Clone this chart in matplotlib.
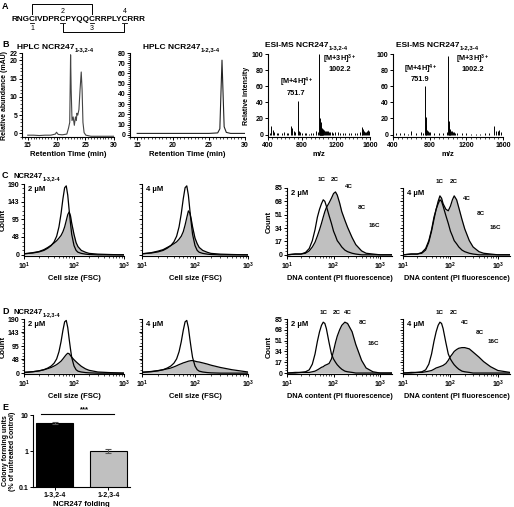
import numpy as np
import matplotlib
matplotlib.use('Agg')
import matplotlib.pyplot as plt
from matplotlib.ticker import MultipleLocator, FixedLocator, NullFormatter, LogLocator
from matplotlib.font_manager import FontProperties

# ---- dados ----
seq = "RNGCIVDPRCPYQQCRRPLYCRRR"
cys_idx = [3, 9, 14, 20]

# HPLC (tempo em min, mAU)
hplc1_t = [15, 16, 17, 18, 19, 19.8, 20.0, 20.3, 21, 21.8, 22.1, 22.3, 22.45, 22.55, 22.7, 22.9, 23.1,
           23.3, 23.45, 23.55, 23.7, 23.9, 24.1, 24.3, 24.45, 24.6, 24.8, 25.1, 26, 27, 28, 29, 30]
hplc1_mau = [-0.5, -0.5, -0.6, -0.5, -0.5, -0.2, 0.3, -0.3, -0.4, -0.2, 1.5, 3, 21.5, 12, 3.5, 4.5, 2.2,
             4.5, 3.5, 5.5, 5.0, 6.5, 12, 16.8, 12, 3, 0.2, -0.5, -0.8, -0.8, -0.8, -0.8, -0.8]
hplc2_t = [15, 17, 19, 21, 23, 25, 26.2, 26.5, 26.65, 26.8, 26.95, 27.1, 27.4, 28, 29, 30]
hplc2_mau = [1.5, 1.5, 1.5, 1.5, 1.5, 1.5, 2, 6, 40, 73, 40, 8, 2.5, 1.5, 1.5, 1.5]

# ESI-MS (m/z, intensidade relativa)
ms1_mz = [420, 440, 455, 470, 500, 520, 560, 590, 620, 640, 670, 685, 700, 715, 751.7, 760, 775, 800, 830,
          850, 880, 900, 930, 960, 985, 1002.2, 1006, 1010, 1014, 1018, 1022, 1025, 1030, 1035, 1040, 1045,
          1052, 1060, 1070, 1080, 1090, 1100, 1115, 1130, 1150, 1170, 1190, 1220, 1250, 1280, 1310, 1350,
          1380, 1420, 1450, 1480, 1500, 1510, 1520, 1530, 1540, 1550, 1560, 1575, 1590]
ms1_int = [2, 11, 6, 3, 2, 2, 2, 3, 2, 2, 11, 8, 5, 3, 42, 5, 3, 2, 2,
           2, 1, 2, 2, 5, 3, 100, 12, 20, 9, 15, 8, 10, 7, 8, 6, 7,
           5, 6, 4, 5, 4, 4, 3, 3, 3, 2, 3, 3, 2, 2, 2, 2,
           2, 2, 2, 3, 4, 10, 7, 4, 3, 3, 5, 6, 4]
ms2_mz = [430, 480, 520, 560, 600, 650, 700, 730, 751.9, 756, 762, 770, 780, 790, 800, 850, 900, 950, 985,
          1002.2, 1008, 1015, 1020, 1025, 1032, 1040, 1050, 1060, 1080, 1100, 1150, 1200, 1250, 1300, 1350,
          1400, 1450, 1500, 1520, 1540, 1560, 1580, 1595]
ms2_int = [2, 2, 2, 1, 4, 2, 3, 2, 60, 22, 12, 6, 4, 3, 3, 2, 2, 2, 3,
           97, 17, 12, 7, 6, 5, 4, 3, 3, 2, 2, 2, 2, 1, 1, 1,
           2, 2, 11, 4, 5, 6, 3, 2]

# citometria - tamanho celular (FSC)
fsc = [10, 12, 15, 20, 25, 30, 35, 40, 45, 50, 55, 60, 65, 70, 75, 80, 85, 90, 100, 110, 120, 140, 170, 200,
       300, 500, 1000]
ctrl_fsc = [3, 4, 5, 8, 12, 18, 25, 35, 50, 75, 110, 150, 180, 185, 160, 120, 85, 55, 25, 12, 7, 4, 2, 1,
            0, 0, 0]
c1_fsc = [3, 4, 6, 9, 14, 20, 26, 32, 38, 45, 52, 62, 75, 92, 108, 115, 105, 85, 55, 33, 22, 12, 7, 4, 2, 1, 0]
c2_fsc = [3, 4, 6, 10, 14, 20, 25, 30, 35, 42, 50, 62, 80, 100, 118, 112, 95, 75, 45, 30, 20, 12, 7, 4, 2, 1, 0]
d1_fsc = [2, 3, 5, 8, 12, 16, 20, 25, 30, 36, 42, 50, 58, 65, 70, 68, 62, 56, 47, 40, 34, 24, 15, 10, 4, 2, 0]
d2_fsc = [3, 4, 6, 9, 12, 15, 18, 22, 26, 30, 33, 36, 38, 40, 42, 43, 44, 44, 42, 40, 39, 36, 32, 28, 20, 12, 4]

# citometria - conteudo de DNA
dna = [10, 15, 20, 25, 30, 35, 40, 45, 50, 55, 60, 65, 70, 80, 90, 100, 110, 120, 135, 150, 175, 200, 250, 300,
       400, 500, 700, 1000, 1800]
c_dna_ctrl = [0, 1, 1, 3, 8, 18, 32, 48, 58, 65, 70, 68, 62, 50, 40, 30, 24, 18, 14, 10, 6, 4, 2, 1, 0, 0, 0, 0, 0]
c3_dna = [0, 1, 1, 2, 5, 10, 16, 24, 32, 40, 48, 55, 60, 66, 72, 78, 80, 76, 66, 55, 44, 35, 22, 13, 5, 2, 1, 0, 0]
c4_dna = [0, 1, 1, 2, 6, 16, 30, 45, 58, 68, 75, 72, 65, 58, 56, 62, 70, 75, 70, 60, 45, 33, 18, 10, 4, 2, 1, 0, 0]
d_dna_ctrl = [0, 1, 1, 2, 5, 14, 30, 50, 65, 75, 80, 78, 70, 48, 30, 22, 17, 13, 9, 6, 3, 2, 1, 0, 0, 0, 0, 0, 0]
d3_dna = [0, 0, 1, 1, 1, 2, 3, 5, 7, 9, 10, 12, 13, 15, 22, 35, 48, 58, 68, 75, 80, 78, 65, 45, 20, 8, 2, 0, 0]
d4_dna = [0, 0, 1, 1, 2, 3, 4, 6, 8, 9, 10, 11, 12, 15, 20, 26, 30, 34, 37, 39, 40, 40, 38, 33, 25, 18, 10, 4, 1]

ploidy = ["1C", "2C", "4C", "8C", "16C"]
ploidy_pos_c3 = [(54, 92), (107, 92), (213, 84), (400, 57), (740, 34)]
ploidy_pos_c4 = [(60, 90), (120, 90), (220, 68), (430, 50), (900, 31)]
ploidy_pos_d3 = [(60, 92), (120, 92), (200, 92), (420, 76), (700, 42)]
ploidy_pos_d4 = [(60, 92), (120, 92), (200, 75), (420, 60), (800, 45)]

# colonias
folding = ["1-3,2-4", "1-2,3-4"]
cfu = [6.0, 1.0]
cfu_err = [0.4, 0.12]

# ---- estilo ----
plt.rcParams['font.family'] = ['Liberation Sans', 'DejaVu Sans']
plt.rcParams['font.weight'] = 'bold'
plt.rcParams['axes.labelweight'] = 'bold'
plt.rcParams['mathtext.fontset'] = 'custom'
plt.rcParams['mathtext.rm'] = 'Liberation Sans:bold'
plt.rcParams['mathtext.bf'] = 'Liberation Sans:bold'
plt.rcParams['mathtext.it'] = 'Liberation Sans:bold'
plt.rcParams['mathtext.default'] = 'bf'
plt.rcParams['axes.linewidth'] = 0.8

W, H = 514, 507
fig = plt.figure(figsize=(W / 100, H / 100), dpi=100)
renderer = fig.canvas.get_renderer()


def add_ax(l, t, r, b):
    return fig.add_axes([l / W, 1 - b / H, (r - l) / W, (b - t) / H])


def ftext(x, y, s, **kw):
    return fig.text(x / W, 1 - y / H, s, **kw)


def text_w(s, size):
    fp = FontProperties(family='Liberation Sans', weight='bold', size=size)
    return renderer.get_text_width_height_descent(s, fp, ismath=False)[0]


def label_sub(x, y, main, sub, size=6):
    ftext(x, y, main, fontsize=size, va='baseline')
    ftext(x + text_w(main, size) + 0.5, y + 2.5, sub, fontsize=size * 0.72, va='baseline')


def style(ax):
    for s in ['top', 'right']:
        ax.spines[s].set_visible(False)
    ax.tick_params(which='major', direction='out', length=2.2, width=0.7, labelsize=5, pad=1.2)
    ax.tick_params(which='minor', direction='out', length=1.2, width=0.5)


def panel_letter(x, y, s):
    ftext(x, y, s, fontsize=6.5, va='baseline')


# ---- A: sequencia ----
panel_letter(2, 9, "A")
seq_size = 5.9
x0, ybase = 11, 21
ftext(x0, ybase, seq, fontsize=seq_size, va='baseline')
cx = []
for i in cys_idx:
    a = text_w(seq[:i], seq_size)
    b = text_w(seq[:i + 1], seq_size)
    cx.append(x0 + (a + b) / 2)
for xc in cx:
    fig.add_artist(plt.Line2D([(xc - 2.2) / W, (xc + 2.2) / W], [1 - 23 / H] * 2, color='k', lw=0.6))
# ponte 1-3 (cima) e 2-4 (baixo)
top_y, bot_y = 4, 32
fig.add_artist(plt.Line2D([cx[0] / W, cx[0] / W, cx[2] / W, cx[2] / W],
                          [1 - 14 / H, 1 - top_y / H, 1 - top_y / H, 1 - 14 / H], color='k', lw=0.7))
fig.add_artist(plt.Line2D([cx[1] / W, cx[1] / W, cx[3] / W, cx[3] / W],
                          [1 - 24 / H, 1 - bot_y / H, 1 - bot_y / H, 1 - 24 / H], color='k', lw=0.7))
ftext(cx[0], 30, "1", fontsize=5, ha='center', va='baseline', fontweight='normal')
ftext(cx[1], 13, "2", fontsize=5, ha='center', va='baseline', fontweight='normal')
ftext(cx[2], 30, "3", fontsize=5, ha='center', va='baseline', fontweight='normal')
ftext(cx[3], 13, "4", fontsize=5, ha='center', va='baseline', fontweight='normal')

# ---- B: HPLC e MS ----
panel_letter(2, 47, "B")
b1 = add_ax(22, 53, 114, 137)
b1.plot(hplc1_t, hplc1_mau, color='#444444', lw=0.8)
b1.set_xlim(14, 30)
b1.set_ylim(-1, 22)
b1.set_xticks([15, 20, 25, 30])
b1.set_yticks([0, 5, 10, 15, 20, 22])
b1.xaxis.set_minor_locator(MultipleLocator(0.5))
b1.yaxis.set_minor_locator(MultipleLocator(1))
b1.set_xlabel("Retention Time (min)", fontsize=5.5, labelpad=2)
b1.set_ylabel("Relative abundance (mAU)", fontsize=5, labelpad=1)
style(b1)
label_sub(17, 49, "HPLC NCR247", "1-3,2-4")

b2 = add_ax(130, 53, 245, 137)
b2.plot(hplc2_t, hplc2_mau, color='#222222', lw=0.8)
b2.set_xlim(14, 30)
b2.set_ylim(-2, 80)
b2.set_xticks([15, 20, 25, 30])
b2.set_yticks(np.arange(0, 81, 10))
b2.xaxis.set_minor_locator(MultipleLocator(0.5))
b2.yaxis.set_minor_locator(MultipleLocator(2))
b2.set_xlabel("Retention Time (min)", fontsize=5.5, labelpad=2)
style(b2)
label_sub(143, 49, "HPLC NCR247", "1-2,3-4")

for (l, r, tx, mz, inten, sub, ann4, ann3, p4, p3) in [
        (268, 370, 265, ms1_mz, ms1_int, "1-3,2-4", "751.7", "1002.2", (735, 47), (1240, 76)),
        (393, 503, 396, ms2_mz, ms2_int, "1-2,3-4", "751.9", "1002.2", (700, 64), (1265, 76))]:
    ax = add_ax(l, 54, r, 137)
    ax.vlines(mz, 0, inten, color='k', lw=0.7)
    ax.set_xlim(400, 1600)
    ax.set_ylim(-3, 100)
    ax.set_xticks([400, 800, 1200, 1600])
    ax.set_yticks([0, 20, 40, 60, 80, 100])
    ax.xaxis.set_minor_locator(MultipleLocator(50))
    ax.set_xlabel("m/z", fontsize=5.5, labelpad=2)
    if l < 300:
        ax.set_ylabel("Relative intensity", fontsize=5, labelpad=1)
    style(ax)
    ax.text(p4[0], p4[1], "[M+4H]$^{4+}$\n" + ann4, fontsize=5.3, ha='center', va='bottom', linespacing=1.05)
    ax.text(p3[0], p3[1], "[M+3H]$^{3+}$\n" + ann3, fontsize=5.3, ha='center', va='bottom', linespacing=1.05)
    label_sub(tx, 47, "ESI-MS NCR247", sub)


# ---- C e D: citometria ----
def hist_ax(l, t, r, b, x, open_y, fill_y, kind, conc, ylab, ppos=None):
    ax = add_ax(l, t, r, b)
    ax.fill_between(x, fill_y, color='#c0c0c0', lw=0)
    ax.plot(x, fill_y, color='k', lw=0.9)
    ax.plot(x, open_y, color='k', lw=0.9)
    ax.set_xscale('log')
    if kind == 'fsc':
        ax.set_xlim(10, 1000)
        ax.set_ylim(-3, 190)
        ax.set_yticks([0, 48, 95, 143, 190])
        ax.yaxis.set_minor_locator(MultipleLocator(190 / 16))
        ax.set_xlabel("Cell size (FSC)", fontsize=5.5, labelpad=2)
    else:
        ax.set_xlim(10, 1800)
        ax.set_ylim(-1.5, 85)
        ax.set_yticks([0, 17, 34, 51, 68, 85])
        ax.yaxis.set_minor_locator(MultipleLocator(17 / 4))
        ax.set_xlabel("DNA content (PI fluorescence)", fontsize=5.3, labelpad=2)
    ax.xaxis.set_major_locator(LogLocator(base=10, numticks=5))
    ax.xaxis.set_minor_locator(LogLocator(base=10, subs=np.arange(2, 10), numticks=20))
    ax.xaxis.set_minor_formatter(NullFormatter())
    if ylab:
        ax.set_ylabel("Count", fontsize=5.5, labelpad=1)
    else:
        ax.set_yticklabels([])
    style(ax)
    ax.text(0.04, 0.97, conc, transform=ax.transAxes, fontsize=5.5, va='top')
    if ppos is not None:
        for lab, (px_, py_) in zip(ploidy, ppos):
            ax.text(px_, py_, lab, fontsize=4.5, ha='center', va='bottom', clip_on=False)
    return ax


panel_letter(2, 178, "C")
label_sub(13, 178, "NCR247", "1-3,2-4", size=5.5)
hist_ax(24, 184, 124, 256, fsc, ctrl_fsc, c1_fsc, 'fsc', "2 µM", True)
hist_ax(142, 184, 248, 256, fsc, ctrl_fsc, c2_fsc, 'fsc', "4 µM", False)
hist_ax(287, 188, 392, 256, dna, c_dna_ctrl, c3_dna, 'dna', "2 µM", True, ploidy_pos_c3)
hist_ax(403, 188, 510, 256, dna, c_dna_ctrl, c4_dna, 'dna', "4 µM", False, ploidy_pos_c4)

panel_letter(2, 314, "D")
label_sub(13, 314, "NCR247", "1-2,3-4", size=5.5)
hist_ax(24, 319, 124, 374, fsc, ctrl_fsc, d1_fsc, 'fsc', "2 µM", True)
hist_ax(142, 319, 248, 374, fsc, ctrl_fsc, d2_fsc, 'fsc', "4 µM", False)
hist_ax(287, 319, 392, 374, dna, d_dna_ctrl, d3_dna, 'dna', "2 µM", True, ploidy_pos_d3)
hist_ax(403, 319, 510, 374, dna, d_dna_ctrl, d4_dna, 'dna', "4 µM", False, ploidy_pos_d4)

# ---- E: colonias ----
panel_letter(2, 410, "E")
e = add_ax(33, 415, 130, 487)
xpos = np.arange(len(folding))
e.bar(xpos, cfu, width=0.7, color=['k', '#c0c0c0'], edgecolor='k', lw=0.8,
      yerr=cfu_err, capsize=2, error_kw=dict(lw=0.8, capthick=0.8, ecolor='#555555'))
e.set_yscale('log')
e.set_ylim(0.1, 10)
e.set_xlim(-0.4, 1.4)
e.set_yticks([0.1, 1, 10])
e.set_yticklabels(["0.1", "1", "10"])
e.yaxis.set_minor_locator(FixedLocator([]))
e.set_xticks(xpos)
e.set_xticklabels(folding)
e.set_xlabel("NCR247 folding", fontsize=5.5, labelpad=1.5)
e.set_ylabel("Colony forming units\n(% of untreated control)", fontsize=5, labelpad=1.5, linespacing=1.0)
style(e)
e.plot([-0.25, 1.1], [11, 11], color='k', lw=0.8, clip_on=False)
e.text(0.55, 11.5, "***", fontsize=5.5, ha='center', va='bottom')

fig.savefig("out.png", dpi=100)
